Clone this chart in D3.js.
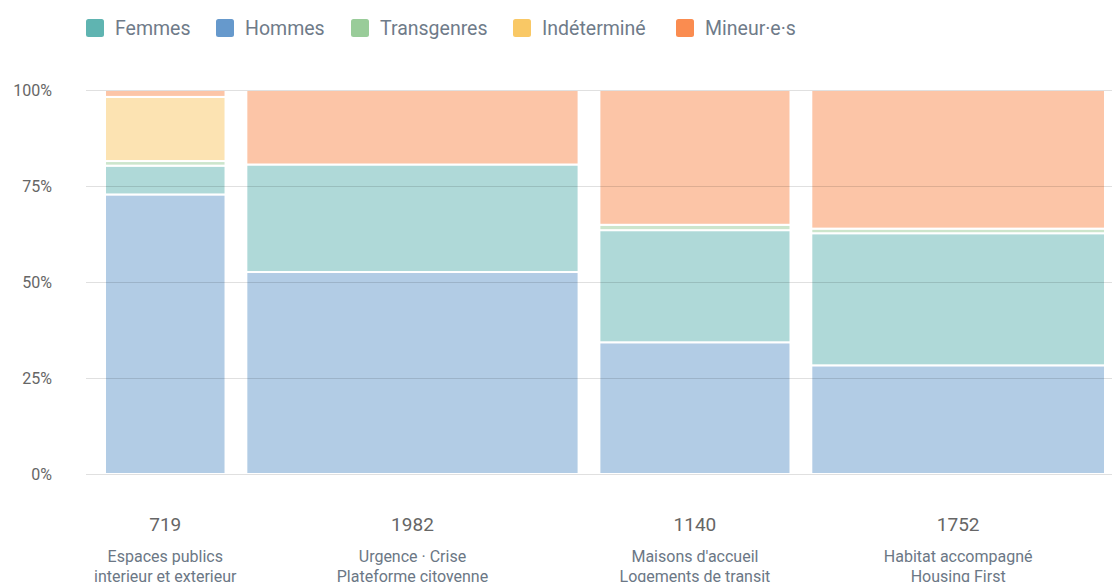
<!DOCTYPE html>
<html>
<head>
<meta charset="utf-8">
<script src="https://cdn.jsdelivr.net/npm/d3@7"></script>
<style>
  body { margin: 0; background: #fff; font-family: Roboto, "Noto Sans", sans-serif; }
  svg { display: block; }
</style>
</head>
<body>
<div id="chart"></div>
<script>
// Categories and totals (bar widths)
const categories = [
  ['Espaces publics', 'interieur et exterieur'],
  ['Urgence · Crise', 'Plateforme citoyenne'],
  ["Maisons d'accueil", 'Logements de transit'],
  ['Habitat accompagné', 'Housing First']
];
const totals = [719, 1982, 1140, 1752];

// Series (share of each bar, in %)
const seriesNames = ['Femmes', 'Hommes', 'Transgenres', 'Indéterminé', 'Mineur·e·s'];
const seriesColors = ['#5fb4b1', '#6699cc', '#99cc99', '#f9c865', '#fa8c50'];
const hommes      = [72.8, 52.6, 34.3, 28.3];
const femmes      = [7.5, 28.0, 29.2, 34.4];
const transgenres = [1.2, 0, 1.4, 1.2];
const indetermine = [16.7, 0, 0, 0];
const mineurs     = [1.8, 19.4, 35.1, 36.1];

const yTicks = [0, 25, 50, 75, 100];

const W = 1112, H = 582;
const plotLeft = 105, plotRight = 1105, plotTop = 90, plotBottom = 474, gap = 20.8;

const svg = d3.select('#chart').append('svg')
  .attr('width', W)
  .attr('height', H);

// stack order bottom -> top
const stackOrder = [
  { name: 'Hommes', values: hommes },
  { name: 'Femmes', values: femmes },
  { name: 'Transgenres', values: transgenres },
  { name: 'Indéterminé', values: indetermine },
  { name: 'Mineur·e·s', values: mineurs }
];
const color = d3.scaleOrdinal().domain(seriesNames).range(seriesColors);

const totalSum = d3.sum(totals);
const x = d3.scaleLinear()
  .domain([0, totalSum])
  .range([plotLeft, plotRight - gap * (totals.length - 1)]);
const y = d3.scaleLinear().domain([0, 100]).range([plotBottom, plotTop]);

const starts = totals.map((_, i) => d3.sum(totals.slice(0, i)));
const barX0 = i => x(starts[i]) + i * gap;
const barX1 = i => x(starts[i] + totals[i]) + i * gap;

// Bars
const rows = [];
totals.forEach((t, i) => {
  let acc = 0;
  stackOrder.forEach(s => {
    const v = s.values[i];
    if (v > 0) rows.push({ i, name: s.name, y0: acc, y1: acc + v });
    acc += v;
  });
});

svg.append('g')
  .selectAll('rect')
  .data(rows)
  .enter()
  .append('rect')
  .attr('x', d => barX0(d.i))
  .attr('width', d => barX1(d.i) - barX0(d.i))
  .attr('y', d => y(d.y1))
  .attr('height', d => y(d.y0) - y(d.y1))
  .attr('fill', d => color(d.name))
  .attr('fill-opacity', 0.5)
  .attr('stroke', '#fff')
  .attr('stroke-width', 2);

// Grid + y axis (drawn over bars)
const yAxis = svg.append('g')
  .attr('transform', `translate(86,0)`)
  .call(d3.axisLeft(y).tickValues(yTicks).tickSize(-(W - 86)).tickFormat(d => d + '%').tickPadding(34));
yAxis.select('.domain').remove();
yAxis.selectAll('.tick line')
  .attr('stroke', '#000')
  .attr('stroke-opacity', 0.12);
yAxis.selectAll('.tick text')
  .attr('fill', '#666')
  .style('font-size', '16px')
  .style('font-family', 'Roboto, sans-serif');

// Totals under bars
svg.append('g')
  .selectAll('text')
  .data(totals)
  .enter()
  .append('text')
  .attr('x', (_, i) => (barX0(i) + barX1(i)) / 2)
  .attr('y', 531)
  .attr('text-anchor', 'middle')
  .attr('fill', '#666')
  .style('font-size', '19px')
  .text(d => d);

// Category labels
const catG = svg.append('g')
  .selectAll('text')
  .data(categories)
  .enter()
  .append('text')
  .attr('text-anchor', 'middle')
  .attr('fill', '#6b7785')
  .style('font-size', '16px');
catG.selectAll('tspan')
  .data((d, i) => d.map(line => ({ line, i })))
  .enter()
  .append('tspan')
  .attr('x', d => (barX0(d.i) + barX1(d.i)) / 2)
  .attr('y', (d, j) => 562 + j * 20)
  .text(d => d.line);

// Legend
const legendX = [86, 216, 351, 513, 676];
const legend = svg.append('g')
  .selectAll('g')
  .data(seriesNames)
  .enter()
  .append('g')
  .attr('transform', (_, i) => `translate(${legendX[i]},19)`);
legend.append('rect')
  .attr('width', 18)
  .attr('height', 18)
  .attr('rx', 2.5)
  .attr('fill', d => color(d));
legend.append('text')
  .attr('x', 29)
  .attr('y', 15.7)
  .attr('fill', '#6f7b89')
  .style('font-size', '19.5px')
  .text(d => d);
</script>
</body>
</html>
